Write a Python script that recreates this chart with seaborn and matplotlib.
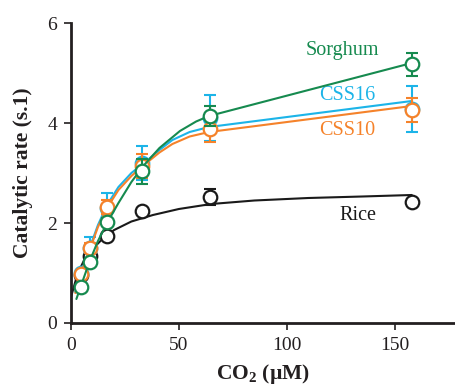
import matplotlib
matplotlib.use("Agg")
import matplotlib.pyplot as plt
import seaborn as sns
import pandas as pd

# Measured CO2 concentrations (µM)
co2 = [4.6, 8.6, 16.7, 33.0, 64.4, 158.0]

# Mean catalytic rates and errors per line
sorghum = [0.72, 1.22, 2.02, 3.04, 4.14, 5.18]
sorghum_err = [0.05, 0.06, 0.08, 0.25, 0.20, 0.23]
css16 = [1.00, 1.50, 2.30, 3.20, 4.10, 4.28]
css16_err = [0.05, 0.22, 0.30, 0.34, 0.46, 0.46]
css10 = [0.98, 1.50, 2.32, 3.14, 3.88, 4.26]
css10_err = [0.05, 0.10, 0.14, 0.24, 0.26, 0.24]
rice = [0.96, 1.35, 1.74, 2.24, 2.52, 2.42]
rice_err = [0.05, 0.05, 0.05, 0.05, 0.16, 0.05]

# Fitted kinetic curves
sorghum_fit_x = [2.5, 4.6, 8.5, 12.5, 16.7, 22, 28, 33.5, 41, 50.5, 58, 64, 158]
sorghum_fit_y = [0.48, 0.74, 1.22, 1.64, 2.00, 2.40, 2.82, 3.14, 3.50, 3.84, 4.03, 4.14, 5.20]
css16_fit_x = [2, 4.6, 8.8, 12.5, 16.7, 22, 28, 35, 41, 47, 55, 64, 158]
css16_fit_y = [0.62, 1.00, 1.52, 1.96, 2.36, 2.72, 3.00, 3.24, 3.46, 3.66, 3.82, 3.92, 4.44]
css10_fit_x = [2, 4.6, 8.8, 12.5, 16.7, 22, 28, 35, 41, 47, 55, 64, 158]
css10_fit_y = [0.60, 0.98, 1.48, 1.92, 2.30, 2.66, 2.94, 3.20, 3.41, 3.58, 3.73, 3.82, 4.34]
rice_fit_x = [0, 3, 6, 10, 15, 20, 28, 38, 50, 65, 85, 110, 135, 158]
rice_fit_y = [0.52, 0.98, 1.25, 1.48, 1.70, 1.86, 2.03, 2.16, 2.28, 2.38, 2.45, 2.50, 2.53, 2.56]

series = [
    # name, means, errors, fit x, fit y, colour, label position
    ("Rice", rice, rice_err, rice_fit_x, rice_fit_y, "#1a1a1a", (133, 2.16)),
    ("CSS16", css16, css16_err, css16_fit_x, css16_fit_y, "#1cb4e8", (128, 4.56)),
    ("CSS10", css10, css10_err, css10_fit_x, css10_fit_y, "#f5822a", (128, 3.86)),
    ("Sorghum", sorghum, sorghum_err, sorghum_fit_x, sorghum_fit_y, "#168a4f", (126, 5.46)),
]

sns.set_theme(style="ticks")
plt.rcParams["font.family"] = ["Liberation Serif", "DejaVu Serif"]
plt.rcParams["mathtext.fontset"] = "custom"
plt.rcParams["mathtext.rm"] = "Liberation Serif"
plt.rcParams["mathtext.bf"] = "Liberation Serif:bold"

fig = plt.figure(figsize=(4.56, 3.90), dpi=100)
ax = fig.add_axes([0.1557, 0.1718, 0.8443, 0.7692])

axis_col = "#231f20"

for z, (name, mean, err, fx, fy, col, (lx, ly)) in enumerate(series):
    fit = pd.DataFrame({"x": fx, "y": fy})
    sns.lineplot(data=fit, x="x", y="y", ax=ax, color=col, linewidth=1.5,
                 sort=False, zorder=2 + z * 3, legend=False)
    ax.errorbar(co2, mean, yerr=err, fmt="none", ecolor=col, elinewidth=1.5,
                capsize=4.5, capthick=1.5, zorder=3 + z * 3)
    pts = pd.DataFrame({"x": co2, "y": mean})
    sns.scatterplot(data=pts, x="x", y="y", ax=ax, s=95, marker="o",
                    facecolor="white", edgecolor=col, linewidth=1.6,
                    zorder=4 + z * 3, legend=False)
    ax.text(lx, ly, name, color=col, fontsize=14.5, ha="center", va="center",
            clip_on=False)

ax.set_xlim(0, 178.5)
ax.set_ylim(0, 6)
ax.set_xticks([0, 50, 100, 150])
ax.set_yticks([0, 2, 4, 6])

for side in ("top", "right"):
    ax.spines[side].set_visible(False)
for side in ("left", "bottom"):
    ax.spines[side].set_linewidth(2.0)
    ax.spines[side].set_color(axis_col)

ax.tick_params(axis="both", direction="out", length=5, width=1.2,
               color=axis_col, labelcolor=axis_col, labelsize=14, pad=5)

ax.set_xlabel(r"CO$_\mathregular{2}$ (µM)", fontsize=15.5, fontweight="bold",
              color=axis_col, labelpad=6)
ax.set_ylabel("Catalytic rate (s.1)", fontsize=15.5, fontweight="bold",
              color=axis_col, labelpad=10)

fig.savefig("out.png", dpi=100)
